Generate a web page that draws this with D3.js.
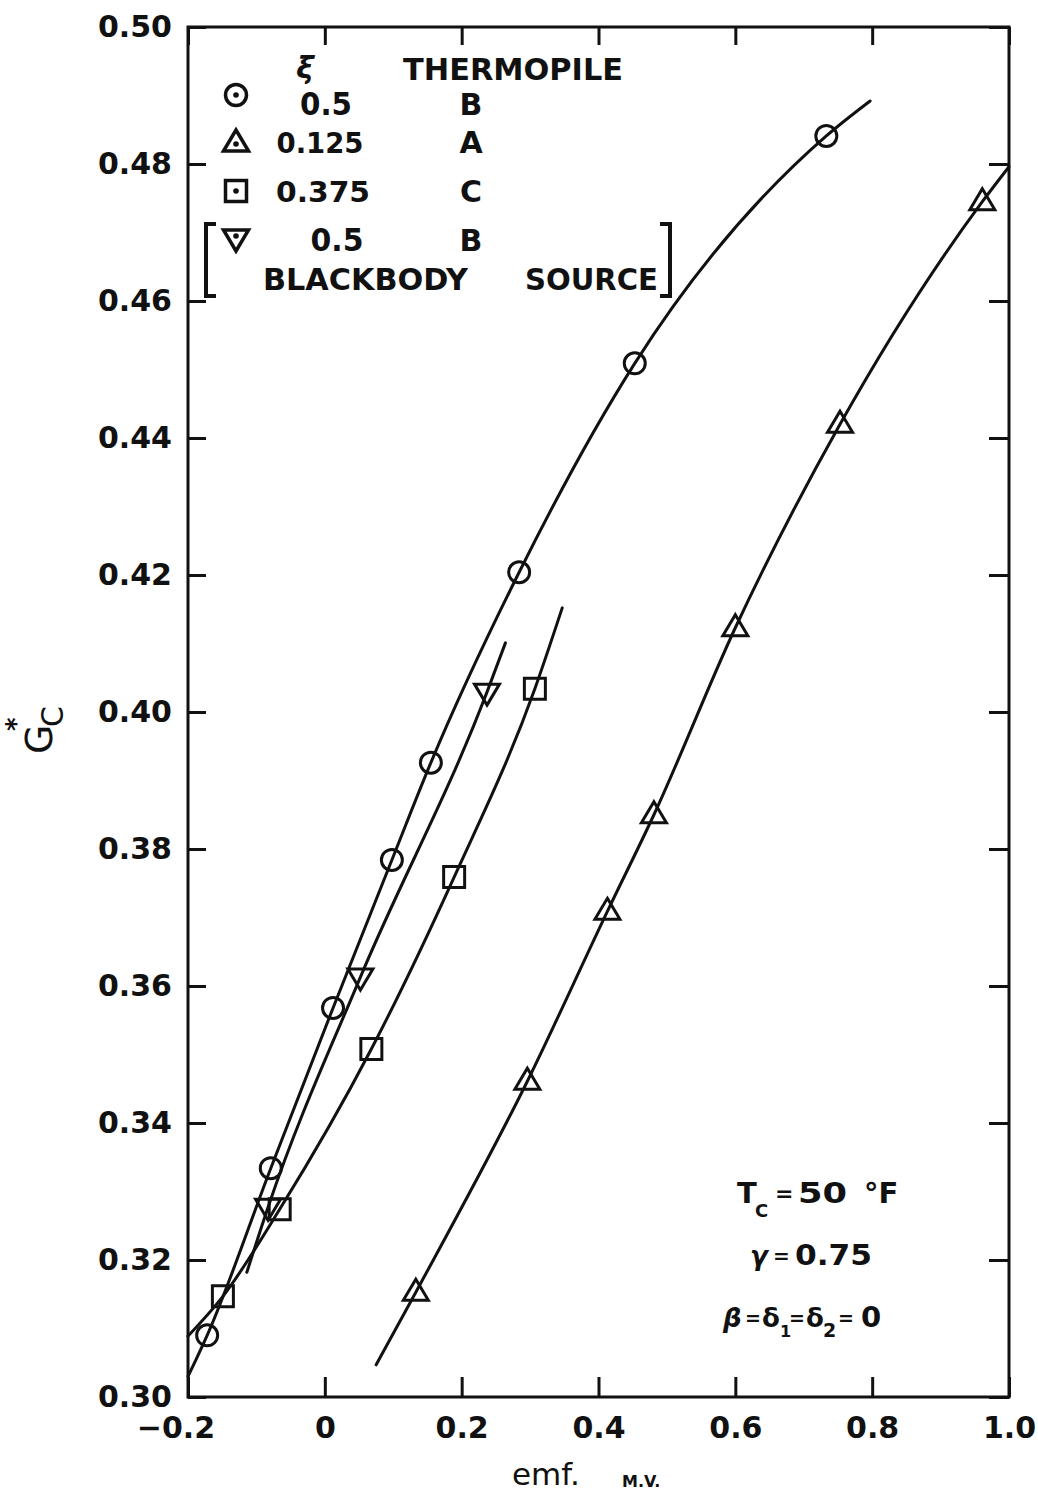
<!DOCTYPE html>
<html>
<head>
<meta charset="utf-8">
<script src="https://cdn.jsdelivr.net/npm/d3@7"></script>
<style>
  body { margin: 0; background: #fff; }
  text { font-family: "DejaVu Sans", sans-serif; fill: #111; }
</style>
</head>
<body>
<script>
// ticks
const xTicks = [-0.2, 0, 0.2, 0.4, 0.6, 0.8, 1.0];
const xTickLabels = ["\u22120.2", "0", "0.2", "0.4", "0.6", "0.8", "1.0"];
const yTicks = [0.30, 0.32, 0.34, 0.36, 0.38, 0.40, 0.42, 0.44, 0.46, 0.48, 0.50];
const yTickLabels = ["0.30", "0.32", "0.34", "0.36", "0.38", "0.40", "0.42", "0.44", "0.46", "0.48", "0.50"];

// ξ = 0.5, thermopile B (circles)
const circleEmf = [-0.172, -0.079, 0.012, 0.098, 0.155, 0.284, 0.453, 0.733];
const circleG   = [0.309, 0.3334, 0.3568, 0.3784, 0.3926, 0.4204, 0.4509, 0.4841];
const circleFitEmf = [-0.2, -0.172, -0.079, 0.012, 0.098, 0.155, 0.284, 0.453, 0.733, 0.797];
const circleFitG   = [0.3030, 0.309, 0.3334, 0.3568, 0.3784, 0.3926, 0.4204, 0.4509, 0.4841, 0.4892];

// ξ = 0.125, thermopile A (triangles)
const triEmf = [0.133, 0.296, 0.413, 0.481, 0.600, 0.753, 0.961];
const triG   = [0.3153, 0.3461, 0.3709, 0.385, 0.4123, 0.442, 0.4745];
const triFitEmf = [0.075, 0.133, 0.296, 0.413, 0.481, 0.600, 0.753, 0.961, 1.0];
const triFitG   = [0.3047, 0.3153, 0.3461, 0.3709, 0.385, 0.4123, 0.442, 0.4745, 0.4796];

// ξ = 0.375, thermopile C (squares)
const sqEmf = [-0.149, -0.066, 0.068, 0.189, 0.307];
const sqG   = [0.3147, 0.3274, 0.3508, 0.3759, 0.4034];
const sqFitEmf = [-0.2, -0.149, -0.066, 0.068, 0.189, 0.307, 0.347];
const sqFitG   = [0.3089, 0.3147, 0.3274, 0.3508, 0.3759, 0.4034, 0.4152];

// ξ = 0.5, thermopile B, blackbody source (inverted triangles)
const invEmf = [-0.083, 0.052, 0.237];
const invG   = [0.3277, 0.3613, 0.4029];
const invFitEmf = [-0.114, -0.083, 0.052, 0.237, 0.264];
const invFitG   = [0.3182, 0.3277, 0.3613, 0.4029, 0.4101];

// legend
const legendTypes = ["circle", "tri", "square", "inv"];
const legendEps = ["0.5", "0.125", "0.375", "0.5"];
const legendPile = ["B", "A", "C", "B"];

const WIDTH = 1038;
const HEIGHT = 1496;
const margin = { top: 27, right: 29, bottom: 99, left: 188 };

const svg = d3.select('body')
  .append('svg')
  .attr('width', WIDTH)
  .attr('height', HEIGHT);

const x = d3.scaleLinear()
  .domain([-0.2, 1.0])
  .range([margin.left, WIDTH - margin.right]);

const y = d3.scaleLinear()
  .domain([0.30, 0.50])
  .range([HEIGHT - margin.bottom, margin.top]);

// axes, ticks pointing inward on all four sides
function styleAxis(g) {
  g.selectAll('.domain').remove();
  g.selectAll('.tick line').attr('stroke', '#111').attr('stroke-width', 3);
  g.selectAll('.tick text')
    .style('font-family', '"DejaVu Sans", sans-serif')
    .style('font-weight', 'bold')
    .style('font-size', '30px')
    .attr('fill', '#111');
}

svg.append('g')
  .attr('transform', `translate(${margin.left},0)`)
  .call(d3.axisLeft(y).tickValues(yTicks)
    .tickFormat((d, i) => yTickLabels[i])
    .tickSizeInner(-18).tickSizeOuter(0).tickPadding(16))
  .call(styleAxis);

svg.append('g')
  .attr('transform', `translate(${WIDTH - margin.right},0)`)
  .call(d3.axisRight(y).tickValues(yTicks).tickFormat('')
    .tickSizeInner(-20).tickSizeOuter(0))
  .call(styleAxis);

svg.append('g')
  .attr('transform', `translate(0,${HEIGHT - margin.bottom})`)
  .call(d3.axisBottom(x).tickValues(xTicks)
    .tickFormat((d, i) => xTickLabels[i])
    .tickSizeInner(-20).tickSizeOuter(0).tickPadding(20))
  .call(styleAxis)
  .selectAll('.tick text')
  .attr('dx', d => d < 0 ? '-0.42em' : 0);

svg.append('g')
  .attr('transform', `translate(0,${margin.top})`)
  .call(d3.axisTop(x).tickValues(xTicks).tickFormat('')
    .tickSizeInner(-18).tickSizeOuter(0))
  .call(styleAxis);

// frame
svg.append('rect')
  .attr('x', x(-0.2)).attr('y', y(0.50))
  .attr('width', x(1.0) - x(-0.2))
  .attr('height', y(0.30) - y(0.50))
  .attr('fill', 'none')
  .attr('stroke', '#111')
  .attr('stroke-width', 3);

// fitted curves
const line = d3.line()
  .x(d => x(d[0]))
  .y(d => y(d[1]))
  .curve(d3.curveMonotoneX);

const fits = [
  d3.zip(circleFitEmf, circleFitG),
  d3.zip(triFitEmf, triFitG),
  d3.zip(sqFitEmf, sqFitG),
  d3.zip(invFitEmf, invFitG)
];

svg.append('g')
  .selectAll('path')
  .data(fits)
  .join('path')
  .attr('d', line)
  .attr('fill', 'none')
  .attr('stroke', '#111')
  .attr('stroke-width', 3)
  .attr('stroke-linecap', 'round');

// markers
function markerPath(type, cx, cy) {
  if (type === 'tri') {
    return `M${cx},${cy - 13}L${cx + 12.5},${cy + 8}L${cx - 12.5},${cy + 8}Z`;
  }
  if (type === 'inv') {
    return `M${cx},${cy + 13}L${cx + 12.5},${cy - 8}L${cx - 12.5},${cy - 8}Z`;
  }
  if (type === 'square') {
    return `M${cx - 10.5},${cy - 10.5}h21v21h-21Z`;
  }
  return `M${cx - 10.5},${cy}a10.5,10.5 0 1,0 21,0a10.5,10.5 0 1,0 -21,0Z`;
}

const points = [
  { type: 'circle', emf: circleEmf, g: circleG },
  { type: 'tri', emf: triEmf, g: triG },
  { type: 'square', emf: sqEmf, g: sqG },
  { type: 'inv', emf: invEmf, g: invG }
];

const markerG = svg.append('g');
points.forEach(s => {
  markerG.selectAll(null)
    .data(d3.zip(s.emf, s.g))
    .join('path')
    .attr('d', d => markerPath(s.type, x(d[0]), y(d[1])))
    .attr('fill', 'none')
    .attr('stroke', '#111')
    .attr('stroke-width', 3)
    .attr('stroke-linejoin', 'miter');
});

// legend
const leg = svg.append('g');
leg.append('text').attr('x', 305).attr('y', 78)
  .attr('text-anchor', 'middle')
  .style('font-size', '30px').style('font-style', 'italic').style('font-weight', 'bold')
  .text('ξ');
leg.append('text').attr('x', 403).attr('y', 80)
  .attr('textLength', 220).attr('lengthAdjust', 'spacingAndGlyphs')
  .style('font-size', '30px').style('font-weight', 'bold')
  .text('THERMOPILE');

const legendRows = [
  { cy: 95, base: 115, numX: 326, w: 52 },
  { cy: 143, base: 153, numX: 320, w: 87 },
  { cy: 191, base: 202, numX: 323, w: 94 },
  { cy: 238, base: 251, numX: 337, w: 53 }
];

legendRows.forEach((r, i) => {
  leg.append('path')
    .attr('d', markerPath(legendTypes[i], 236, r.cy))
    .attr('fill', 'none')
    .attr('stroke', '#111')
    .attr('stroke-width', 3.5);
  leg.append('circle')
    .attr('cx', 236).attr('cy', r.cy + (legendTypes[i] === 'tri' ? 1 : (legendTypes[i] === 'inv' ? -2 : 0)))
    .attr('r', 2.8).attr('fill', '#111');
  leg.append('text').attr('x', r.numX - r.w / 2).attr('y', r.base)
    .attr('textLength', r.w).attr('lengthAdjust', 'spacingAndGlyphs')
    .style('font-size', i === 0 || i === 3 ? '32px' : '29px').style('font-weight', 'bold')
    .text(legendEps[i]);
  leg.append('text').attr('x', 471).attr('y', r.base)
    .attr('text-anchor', 'middle')
    .style('font-size', '30px').style('font-weight', 'bold')
    .text(legendPile[i]);
});

leg.append('text').attr('x', 263).attr('y', 290)
  .attr('textLength', 205).attr('lengthAdjust', 'spacingAndGlyphs')
  .style('font-size', '30px').style('font-weight', 'bold')
  .text('BLACKBODY');
leg.append('text').attr('x', 525).attr('y', 290)
  .attr('textLength', 133).attr('lengthAdjust', 'spacingAndGlyphs')
  .style('font-size', '30px').style('font-weight', 'bold')
  .text('SOURCE');

// brackets
leg.append('path')
  .attr('d', 'M216,224H206V296H216')
  .attr('fill', 'none').attr('stroke', '#111').attr('stroke-width', 4);
leg.append('path')
  .attr('d', 'M660,224H670V296H660')
  .attr('fill', 'none').attr('stroke', '#111').attr('stroke-width', 4);

// conditions
const cond = svg.append('g').style('font-size', '29px').style('font-weight', 'bold');
cond.append('text').attr('x', 737).attr('y', 1203).text('T');
cond.append('text').attr('x', 755).attr('y', 1217).style('font-size', '18px').text('C');
cond.append('text').attr('x', 775).attr('y', 1201).style('font-size', '22px').text('=');
cond.append('text').attr('x', 798).attr('y', 1203)
  .attr('textLength', 49).attr('lengthAdjust', 'spacingAndGlyphs').text('50');
cond.append('text').attr('x', 864).attr('y', 1203).text('°F');

cond.append('text').attr('x', 750).attr('y', 1265).style('font-style', 'italic').style('font-size', '26px').text('γ');
cond.append('text').attr('x', 773).attr('y', 1263).style('font-size', '20px').text('=');
cond.append('text').attr('x', 795).attr('y', 1265)
  .attr('textLength', 77).attr('lengthAdjust', 'spacingAndGlyphs').text('0.75');

const c3 = cond.append('g').style('font-size', '26px');
c3.append('text').attr('x', 723).attr('y', 1327).style('font-style', 'italic').text('β');
c3.append('text').attr('x', 745).attr('y', 1325).style('font-size', '19px').text('=');
c3.append('text').attr('x', 762).attr('y', 1327).text('δ');
c3.append('text').attr('x', 780).attr('y', 1337).style('font-size', '16px').text('1');
c3.append('text').attr('x', 789).attr('y', 1325).style('font-size', '19px').text('=');
c3.append('text').attr('x', 806).attr('y', 1327).text('δ');
c3.append('text').attr('x', 823).attr('y', 1337).style('font-size', '19px').text('2');
c3.append('text').attr('x', 838).attr('y', 1325).style('font-size', '19px').text('=');
c3.append('text').attr('x', 861).attr('y', 1327).style('font-size', '29px').text('0');

// axis titles
svg.append('text').attr('x', 512).attr('y', 1485)
  .style('font-size', '31px')
  .text('emf.');
svg.append('text').attr('x', 622).attr('y', 1487)
  .style('font-size', '16px').style('font-weight', 'bold')
  .text('M.V.');

const yl = svg.append('g').attr('transform', 'translate(52,754) rotate(-90)');
yl.append('text').attr('x', 0).attr('y', 0)
  .style('font-size', '38px')
  .text('G');
yl.append('text').attr('x', 27).attr('y', 11)
  .style('font-size', '30px')
  .text('C');
yl.append('text').attr('x', 23).attr('y', -27)
  .style('font-size', '26px').style('font-weight', 'bold')
  .text('*');
</script>
</body>
</html>
